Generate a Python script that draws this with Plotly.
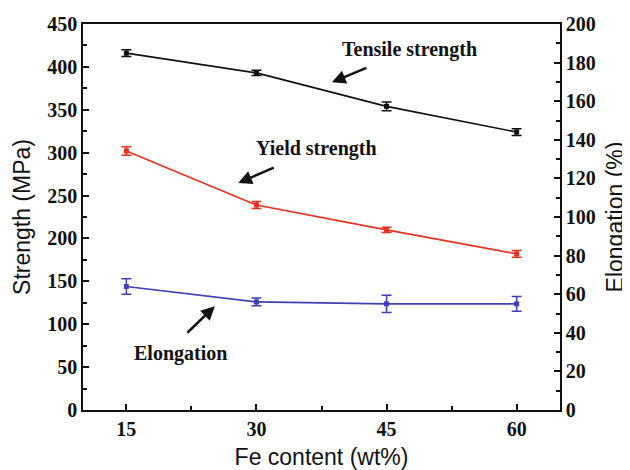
import plotly.graph_objects as go

fe_content = [15, 30, 45, 60]
tensile = [416, 393, 354, 324]
tensile_err = [4, 3, 5, 4]
yield_s = [302, 239, 210, 182]
yield_err = [5, 4, 3, 4]
elong = [64, 56, 55, 55]
elong_err = [4, 2, 4.5, 3.8]

BLACK = "#111111"
RED = "#e8321e"
BLUE = "#4040b8"
SERIF = "'Liberation Serif', 'Times New Roman', Times, serif"
SANS = "'Liberation Sans', Arial, sans-serif"
tickfont = dict(family=SERIF, size=20, color="#111111", weight="bold")
titlefont = dict(family=SANS, size=23, color="#111111")

fig = go.Figure()

def add(y, err, color, axis):
    fig.add_trace(go.Scatter(
        x=fe_content, y=y, mode="lines+markers",
        line=dict(color=color, width=1.6),
        marker=dict(symbol="square", size=5, color=color),
        error_y=dict(type="data", array=err, visible=True, color=color, thickness=1.5, width=5),
        yaxis=axis, showlegend=False))

add(tensile, tensile_err, BLACK, "y")
add(yield_s, yield_err, RED, "y")
add(elong, elong_err, BLUE, "y2")

def axcommon():
    return dict(showline=True, linecolor="#111111", linewidth=1.5, ticks="inside",
                tickcolor="#111111", tickwidth=1.5, ticklen=6, showgrid=False, zeroline=False,
                tickfont=tickfont)

fig.update_layout(
    width=630, height=470,
    margin=dict(l=75, r=78, t=16, b=68, autoexpand=False),
    plot_bgcolor="white", paper_bgcolor="white",
    xaxis=dict(range=[10, 65], tickvals=fe_content, mirror=True,
               minor=dict(tickvals=[22.5, 37.5, 52.5], ticks="inside", ticklen=4, tickcolor="#111111", tickwidth=1.5),
               title=dict(text="Fe content (wt%)", font=titlefont, standoff=10),
               **axcommon()),
    yaxis=dict(range=[0, 450], dtick=50, tick0=0,
               minor=dict(dtick=25, ticks="inside", ticklen=4, tickcolor="#111111", tickwidth=1.5),
               title=dict(text="Strength (MPa)", font=titlefont, standoff=10),
               **axcommon()),
    yaxis2=dict(range=[0, 200], dtick=20, tick0=0, overlaying="y", side="right",
                minor=dict(dtick=10, ticks="inside", ticklen=4, tickcolor="#111111", tickwidth=1.5),
                title=dict(text="Elongation (%)", font=titlefont, standoff=12),
                **axcommon()),
)

labels = [
    ("Tensile strength", 47.7, 419.7),
    ("Yield strength", 36.9, 305.4),
    ("Elongation", 21.2, 66.4),
]
for text, x, y in labels:
    fig.add_annotation(x=x, y=y, xref="x", yref="y", text=text, showarrow=False,
                       font=dict(family=SERIF, size=20, color="#111111", weight="bold"))

arrows = [
    (38.7, 382, 36, -15),
    (27.9, 264.6, 37, -16),
    (25.2, 121, -29, 28),
]
for x, y, ax, ay in arrows:
    fig.add_annotation(x=x, y=y, xref="x", yref="y", ax=ax, ay=ay, text="",
                       showarrow=True, arrowhead=2, arrowsize=1.1, arrowwidth=2.5, arrowcolor="#111111",
                       standoff=0)

fig.write_html("out.html")
